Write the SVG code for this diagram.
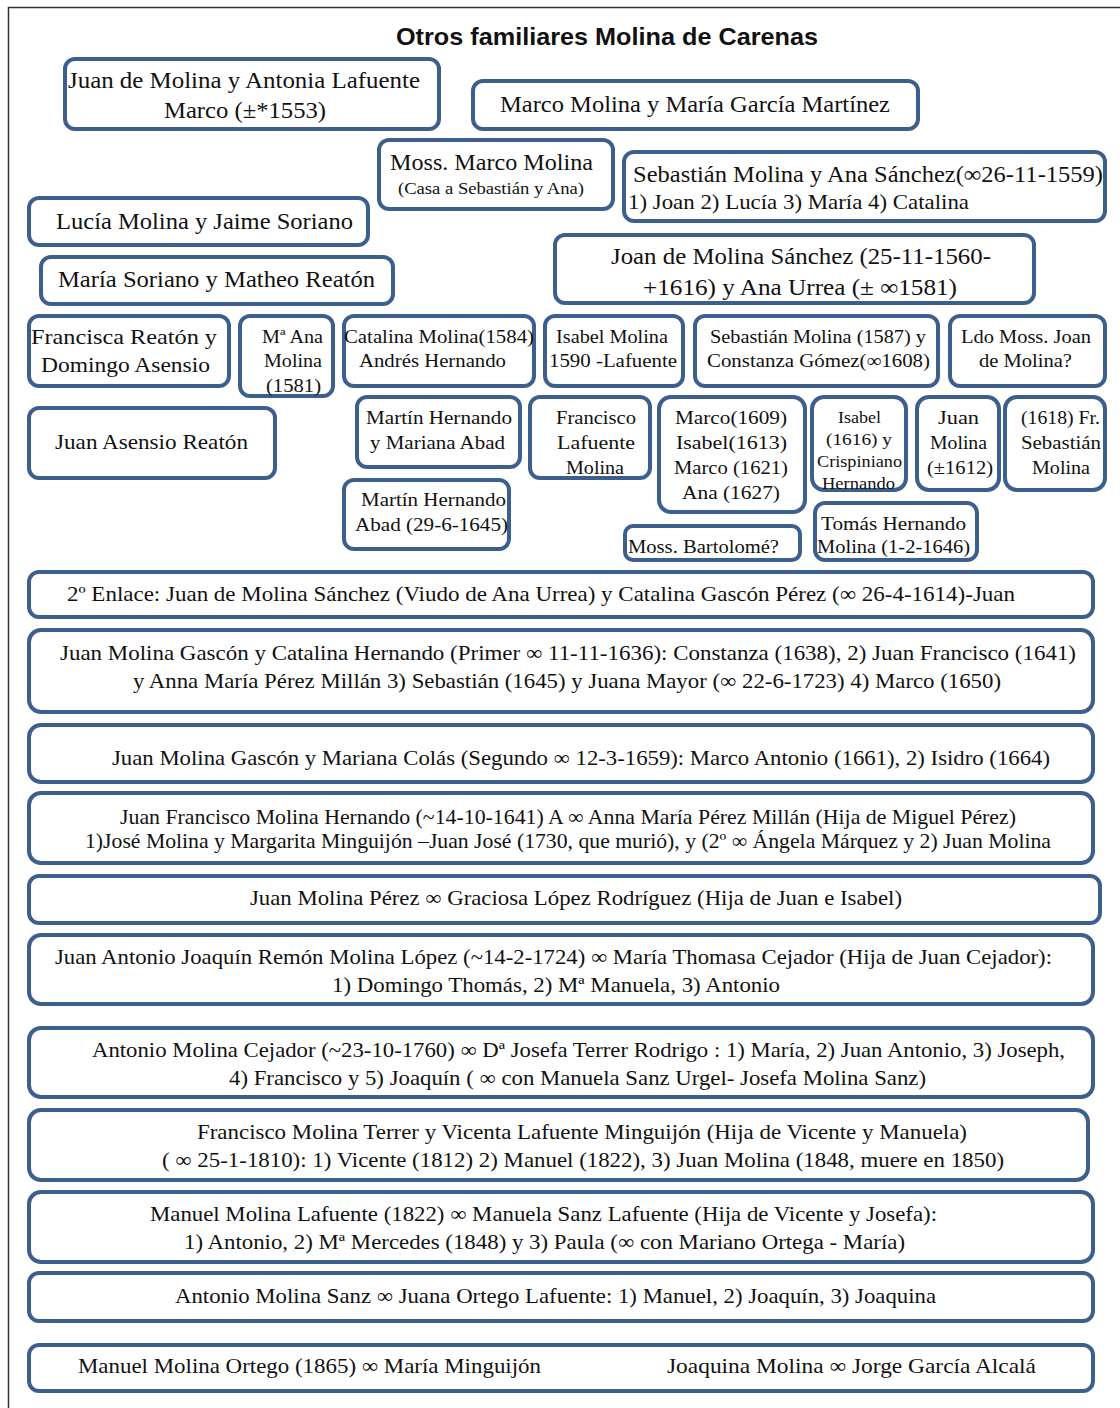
<svg xmlns="http://www.w3.org/2000/svg" width="1120" height="1408" viewBox="0 0 1120 1408">
<style>
.bx{fill:#ffffff;stroke:#3d5f8e;stroke-width:4}
.t{font-family:"Liberation Serif","Times New Roman",serif;fill:#111111}
.f23{font-size:23px}
.f21{font-size:21px}
.f19{font-size:19px}
.f17{font-size:17px}
.f16{font-size:16px}
.ttl{font-family:"Liberation Sans",Arial,sans-serif;font-weight:bold;font-size:24px;fill:#111111}
</style>
<rect x="0" y="0" width="1120" height="1408" fill="#ffffff"/>
<rect x="8.5" y="7.5" width="1130" height="1420" fill="none" stroke="#333333" stroke-width="1.5"/>
<text class="ttl" x="396" y="45" textLength="422" lengthAdjust="spacingAndGlyphs">Otros familiares Molina de Carenas</text>
<g id="connectors"></g>

<g id="n1"><rect class="bx" x="65" y="59" width="374" height="70" rx="10"/>
<text class="t f23" x="68" y="88" textLength="352" lengthAdjust="spacingAndGlyphs">Juan de Molina  y Antonia Lafuente</text>
<text class="t f23" x="164" y="118" textLength="162" lengthAdjust="spacingAndGlyphs">Marco (±*1553)</text></g>

<g id="n2"><rect class="bx" x="473" y="81" width="445" height="48" rx="10"/>
<text class="t f23" x="500" y="112" textLength="390" lengthAdjust="spacingAndGlyphs">Marco Molina y María García Martínez</text></g>

<g id="n3"><rect class="bx" x="379" y="140" width="234" height="69" rx="10"/>
<text class="t f23" x="390" y="170" textLength="203" lengthAdjust="spacingAndGlyphs">Moss. Marco Molina</text>
<text class="t f16" x="398" y="194" textLength="186" lengthAdjust="spacingAndGlyphs">(Casa a Sebastián y Ana)</text></g>

<g id="n4"><rect class="bx" x="624" y="152" width="481" height="69" rx="10"/>
<text class="t f23" x="633" y="182" textLength="470" lengthAdjust="spacingAndGlyphs">Sebastián Molina  y Ana Sánchez(∞26-11-1559)</text>
<text class="t f21" x="628" y="209" textLength="341" lengthAdjust="spacingAndGlyphs">1) Joan 2) Lucía 3) María 4) Catalina</text></g>

<g id="n5"><rect class="bx" x="29" y="198" width="339" height="47" rx="10"/>
<text class="t f23" x="56" y="229" textLength="297" lengthAdjust="spacingAndGlyphs">Lucía Molina y Jaime Soriano</text></g>

<g id="n6"><rect class="bx" x="41" y="257" width="352" height="47" rx="10"/>
<text class="t f23" x="58" y="287" textLength="317" lengthAdjust="spacingAndGlyphs">María Soriano y Matheo Reatón</text></g>

<g id="n7"><rect class="bx" x="555" y="235" width="479" height="68" rx="10"/>
<text class="t f23" x="611" y="264" textLength="380" lengthAdjust="spacingAndGlyphs">Joan de Molina  Sánchez  (25-11-1560-</text>
<text class="t f23" x="643" y="295" textLength="314" lengthAdjust="spacingAndGlyphs">+1616) y Ana Urrea  (± ∞1581)</text></g>

<g id="n8"><rect class="bx" x="29" y="316" width="200" height="70" rx="10"/>
<text class="t f21" x="31" y="344" textLength="186" lengthAdjust="spacingAndGlyphs">Francisca Reatón   y</text>
<text class="t f21" x="41" y="372" textLength="169" lengthAdjust="spacingAndGlyphs">Domingo Asensio</text></g>

<g id="n9"><rect class="bx" x="240" y="316" width="93" height="80" rx="10"/>
<text class="t f19" x="262" y="343" textLength="61" lengthAdjust="spacingAndGlyphs">Mª Ana</text>
<text class="t f19" x="264" y="367" textLength="58" lengthAdjust="spacingAndGlyphs">Molina</text>
<text class="t f19" x="266" y="392" textLength="55" lengthAdjust="spacingAndGlyphs">(1581)</text></g>

<g id="n10"><rect class="bx" x="344" y="316" width="190" height="70" rx="10"/>
<text class="t f19" x="344" y="343" textLength="190" lengthAdjust="spacingAndGlyphs">Catalina Molina(1584)</text>
<text class="t f19" x="359" y="367" textLength="147" lengthAdjust="spacingAndGlyphs">Andrés Hernando</text></g>

<g id="n11"><rect class="bx" x="545" y="316" width="138" height="70" rx="10"/>
<text class="t f19" x="556" y="343" textLength="112" lengthAdjust="spacingAndGlyphs">Isabel Molina</text>
<text class="t f19" x="549" y="367" textLength="128" lengthAdjust="spacingAndGlyphs">1590 -Lafuente</text></g>

<g id="n12"><rect class="bx" x="695" y="316" width="243" height="70" rx="10"/>
<text class="t f19" x="710" y="343" textLength="216" lengthAdjust="spacingAndGlyphs">Sebastián Molina (1587) y</text>
<text class="t f19" x="707" y="367" textLength="223" lengthAdjust="spacingAndGlyphs">Constanza Gómez(∞1608)</text></g>

<g id="n13"><rect class="bx" x="950" y="316" width="155" height="70" rx="10"/>
<text class="t f19" x="961" y="343" textLength="130" lengthAdjust="spacingAndGlyphs">Ldo Moss. Joan</text>
<text class="t f19" x="979" y="367" textLength="93" lengthAdjust="spacingAndGlyphs">de Molina?</text></g>

<g id="n14"><rect class="bx" x="29" y="408" width="246" height="70" rx="10"/>
<text class="t f21" x="55" y="449" textLength="193" lengthAdjust="spacingAndGlyphs">Juan Asensio Reatón</text></g>

<g id="n15"><rect class="bx" x="357" y="397" width="163" height="70" rx="10"/>
<text class="t f19" x="366" y="424" textLength="146" lengthAdjust="spacingAndGlyphs">Martín Hernando</text>
<text class="t f19" x="370" y="449" textLength="135" lengthAdjust="spacingAndGlyphs">y Mariana Abad</text></g>

<g id="n16"><rect class="bx" x="344" y="480" width="165" height="69" rx="10"/>
<text class="t f19" x="361" y="506" textLength="145" lengthAdjust="spacingAndGlyphs">Martín Hernando</text>
<text class="t f19" x="355" y="531" textLength="153" lengthAdjust="spacingAndGlyphs">Abad  (29-6-1645)</text></g>

<g id="n17"><rect class="bx" x="530" y="397" width="120" height="81" rx="10"/>
<text class="t f19" x="556" y="424" textLength="80" lengthAdjust="spacingAndGlyphs">Francisco</text>
<text class="t f19" x="557" y="449" textLength="78" lengthAdjust="spacingAndGlyphs">Lafuente</text>
<text class="t f19" x="566" y="474" textLength="58" lengthAdjust="spacingAndGlyphs">Molina</text></g>

<g id="n18"><rect class="bx" x="659" y="397" width="146" height="115" rx="12"/>
<text class="t f19" x="675" y="424" textLength="112" lengthAdjust="spacingAndGlyphs">Marco(1609)</text>
<text class="t f19" x="676" y="449" textLength="111" lengthAdjust="spacingAndGlyphs">Isabel(1613)</text>
<text class="t f19" x="674" y="474" textLength="114" lengthAdjust="spacingAndGlyphs">Marco (1621)</text>
<text class="t f19" x="682" y="499" textLength="98" lengthAdjust="spacingAndGlyphs">Ana  (1627)</text></g>

<g id="n19"><rect class="bx" x="812" y="397" width="94" height="93" rx="12"/>
<text class="t f17" x="838" y="423" textLength="43" lengthAdjust="spacingAndGlyphs">Isabel</text>
<text class="t f17" x="826" y="445" textLength="66" lengthAdjust="spacingAndGlyphs">(1616)  y</text>
<text class="t f17" x="817" y="467" textLength="85" lengthAdjust="spacingAndGlyphs">Crispiniano</text>
<text class="t f17" x="822" y="489" textLength="73" lengthAdjust="spacingAndGlyphs">Hernando</text></g>

<g id="n20"><rect class="bx" x="917" y="397" width="82" height="93" rx="12"/>
<text class="t f19" x="938" y="424" textLength="41" lengthAdjust="spacingAndGlyphs">Juan</text>
<text class="t f19" x="930" y="449" textLength="57" lengthAdjust="spacingAndGlyphs">Molina</text>
<text class="t f19" x="927" y="474" textLength="66" lengthAdjust="spacingAndGlyphs">(±1612)</text></g>

<g id="n21"><rect class="bx" x="1005" y="397" width="100" height="93" rx="12"/>
<text class="t f19" x="1021" y="424" textLength="79" lengthAdjust="spacingAndGlyphs">(1618) Fr.</text>
<text class="t f19" x="1021" y="449" textLength="80" lengthAdjust="spacingAndGlyphs">Sebastián</text>
<text class="t f19" x="1032" y="474" textLength="58" lengthAdjust="spacingAndGlyphs">Molina</text></g>

<g id="n22"><rect class="bx" x="625" y="526" width="175" height="34" rx="8"/>
<text class="t f19" x="628" y="553" textLength="151" lengthAdjust="spacingAndGlyphs">Moss. Bartolomé?</text></g>

<g id="n23"><rect class="bx" x="815" y="503" width="162" height="57" rx="10"/>
<text class="t f19" x="821" y="530" textLength="145" lengthAdjust="spacingAndGlyphs">Tomás Hernando</text>
<text class="t f19" x="817" y="553" textLength="153" lengthAdjust="spacingAndGlyphs">Molina (1-2-1646)</text></g>

<g id="n24"><rect class="bx" x="29" y="572" width="1064" height="45" rx="10"/>
<text class="t f21" x="67" y="601" textLength="948" lengthAdjust="spacingAndGlyphs">2º Enlace: Juan de Molina Sánchez (Viudo de Ana Urrea)  y Catalina Gascón Pérez (∞ 26-4-1614)-Juan</text></g>

<g id="n25"><rect class="bx" x="29" y="630" width="1064" height="82" rx="12"/>
<text class="t f21" x="60" y="660" textLength="1016" lengthAdjust="spacingAndGlyphs">Juan Molina Gascón y Catalina Hernando (Primer  ∞ 11-11-1636): Constanza (1638), 2) Juan Francisco (1641)</text>
<text class="t f21" x="133" y="688" textLength="868" lengthAdjust="spacingAndGlyphs">y Anna María Pérez Millán 3) Sebastián (1645) y Juana Mayor (∞ 22-6-1723) 4) Marco (1650)</text></g>

<g id="n26"><rect class="bx" x="29" y="725" width="1064" height="57" rx="12"/>
<text class="t f21" x="112" y="765" textLength="938" lengthAdjust="spacingAndGlyphs">Juan Molina Gascón y Mariana Colás (Segundo ∞ 12-3-1659): Marco Antonio (1661), 2) Isidro (1664)</text></g>

<g id="n27"><rect class="bx" x="29" y="793" width="1064" height="70" rx="12"/>
<text class="t f21" x="120" y="824" textLength="896" lengthAdjust="spacingAndGlyphs">Juan Francisco Molina Hernando (~14-10-1641) A ∞  Anna María Pérez Millán (Hija de Miguel Pérez)</text>
<text class="t f21" x="85" y="848" textLength="966" lengthAdjust="spacingAndGlyphs">1)José Molina y Margarita Minguijón –Juan José (1730, que murió), y (2º ∞ Ángela Márquez  y 2) Juan Molina</text></g>

<g id="n28"><rect class="bx" x="29" y="876" width="1071" height="47" rx="10"/>
<text class="t f21" x="250" y="905" textLength="652" lengthAdjust="spacingAndGlyphs">Juan Molina Pérez ∞ Graciosa López Rodríguez (Hija de Juan e Isabel)</text></g>

<g id="n29"><rect class="bx" x="29" y="935" width="1064" height="69" rx="12"/>
<text class="t f21" x="55" y="964" textLength="997" lengthAdjust="spacingAndGlyphs">Juan Antonio Joaquín Remón Molina López (~14-2-1724) ∞ María Thomasa Cejador (Hija de Juan Cejador):</text>
<text class="t f21" x="332" y="992" textLength="448" lengthAdjust="spacingAndGlyphs">1) Domingo Thomás, 2) Mª Manuela, 3) Antonio</text></g>

<g id="n30"><rect class="bx" x="29" y="1028" width="1064" height="69" rx="12"/>
<text class="t f21" x="92" y="1057" textLength="973" lengthAdjust="spacingAndGlyphs">Antonio Molina Cejador (~23-10-1760) ∞ Dª Josefa Terrer Rodrigo : 1) María, 2) Juan Antonio, 3) Joseph,</text>
<text class="t f21" x="229" y="1085" textLength="697" lengthAdjust="spacingAndGlyphs">4) Francisco y 5) Joaquín ( ∞ con Manuela Sanz Urgel- Josefa Molina Sanz)</text></g>

<g id="n31"><rect class="bx" x="29" y="1110" width="1059" height="70" rx="12"/>
<text class="t f21" x="197" y="1139" textLength="770" lengthAdjust="spacingAndGlyphs">Francisco Molina Terrer y Vicenta Lafuente Minguijón (Hija de Vicente y Manuela)</text>
<text class="t f21" x="162" y="1167" textLength="842" lengthAdjust="spacingAndGlyphs">( ∞ 25-1-1810): 1) Vicente (1812) 2) Manuel (1822), 3) Juan Molina (1848, muere en 1850)</text></g>

<g id="n32"><rect class="bx" x="29" y="1192" width="1064" height="70" rx="12"/>
<text class="t f21" x="150" y="1221" textLength="787" lengthAdjust="spacingAndGlyphs">Manuel Molina Lafuente (1822) ∞ Manuela Sanz Lafuente (Hija de Vicente y Josefa):</text>
<text class="t f21" x="184" y="1249" textLength="721" lengthAdjust="spacingAndGlyphs">1) Antonio, 2) Mª Mercedes (1848) y 3) Paula (∞ con Mariano Ortega - María)</text></g>

<g id="n33"><rect class="bx" x="29" y="1273" width="1064" height="48" rx="10"/>
<text class="t f21" x="175" y="1303" textLength="761" lengthAdjust="spacingAndGlyphs">Antonio Molina Sanz ∞ Juana Ortego Lafuente: 1) Manuel, 2) Joaquín, 3) Joaquina</text></g>

<g id="n34"><rect class="bx" x="29" y="1345" width="1064" height="46" rx="10"/>
<text class="t f21" x="78" y="1373" textLength="463" lengthAdjust="spacingAndGlyphs">Manuel Molina Ortego (1865) ∞ María Minguijón</text>
<text class="t f21" x="667" y="1373" textLength="369" lengthAdjust="spacingAndGlyphs">Joaquina Molina ∞  Jorge García Alcalá</text></g>
</svg>
